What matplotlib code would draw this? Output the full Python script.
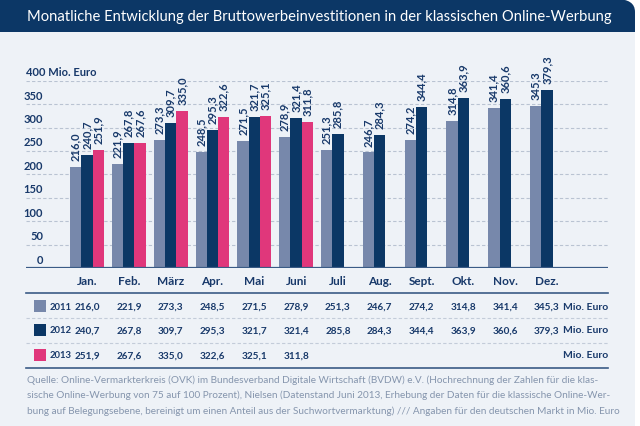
import numpy as np
import matplotlib.pyplot as plt
import matplotlib.transforms as mtransforms
from matplotlib.patches import Rectangle, FancyBboxPatch
from matplotlib.lines import Line2D

months = ['Jan.', 'Feb.', 'März', 'Apr.', 'Mai', 'Juni', 'Juli', 'Aug.', 'Sept.', 'Okt.', 'Nov.', 'Dez.']
v2011 = [216.0, 221.9, 273.3, 248.5, 271.5, 278.9, 251.3, 246.7, 274.2, 314.8, 341.4, 345.3]
v2012 = [240.7, 267.8, 309.7, 295.3, 321.7, 321.4, 285.8, 284.3, 344.4, 363.9, 360.6, 379.3]
v2013 = [251.9, 267.6, 335.0, 322.6, 325.1, 311.8]
years = ['2011', '2012', '2013']
yticks = [0, 50, 100, 150, 200, 250, 300, 350, 400]
unit = 'Mio. Euro'
title = 'Monatliche Entwicklung der Bruttowerbeinvestitionen in der klassischen Online-Werbung'
source = ['Quelle: Online-Vermarkterkreis (OVK) im Bundesverband Digitale Wirtschaft (BVDW) e.V. (Hochrechnung der Zahlen für die klas-',
          'sische Online-Werbung von 75 auf 100 Prozent), Nielsen (Datenstand Juni 2013, Erhebung der Daten für die klassische Online-Wer-',
          'bung auf Belegungsebene, bereinigt um einen Anteil aus der Suchwortvermarktung) /// Angaben für den deutschen Markt in Mio. Euro']

colors = ['#7788ab', '#0b3765', '#e0377b']
navy = '#0c3766'
txtc = '#18396a'
bg = '#eef2f7'

plt.rcParams['font.family'] = ['Lato', 'DejaVu Sans']

W, H = 640, 427
fig = plt.figure(figsize=(6.4, 4.27), dpi=100)
fig.patch.set_facecolor('white')

def fy(y):
    return 1 - y / H

# panel + title bar
fig.patches.append(FancyBboxPatch((580 / W, fy(60)), 55 / W, 60 / H, boxstyle='round,pad=0,rounding_size=0.03',
                                  transform=fig.transFigure, fc=navy, ec='none', zorder=-3))
fig.patches.append(Rectangle((0, fy(33)), 600 / W, 33 / H, transform=fig.transFigure, fc=navy, ec='none', zorder=-2))
fig.patches.append(Rectangle((0, 0), 635 / W, fy(33), transform=fig.transFigure, fc=bg, ec='none', zorder=-1))
fig.text(27 / W, fy(17), title, color='white', fontsize=10.6, va='center', ha='left', zorder=5)

# chart
ax = fig.add_axes([26 / W, fy(269), 582 / W, (269 - 81.7) / H])
ax.set_xlim(-1.46, 12.46)
ax.set_ylim(0, 400)
ax.axis('off')
ax.patch.set_visible(False)

for t in yticks[1:]:
    ax.axhline(t, color='#b9c3d2', lw=0.8, ls=(0, (3, 2)), zorder=0)
ax.axhline(0, color='#3a5b86', lw=1.6, zorder=3)

ty = mtransforms.blended_transform_factory(fig.transFigure, ax.transData)
for t in yticks[:-1]:
    ax.annotate(str(t), (43 / W, t), xycoords=ty, xytext=(0, 2.5), textcoords='offset points',
                ha='right', va='bottom', fontsize=8, fontweight='bold', color=txtc)
ax.annotate(f'{yticks[-1]} {unit}', (26 / W, yticks[-1]), xycoords=ty, xytext=(0, 2.5), textcoords='offset points',
            ha='left', va='bottom', fontsize=8, fontweight='bold', color=txtc)

w = 0.27
x = np.arange(len(months))
for k, vals in enumerate([v2011, v2012, v2013]):
    xs = x[:len(vals)] + (k - 1) * w
    ax.bar(xs, vals, width=w, color=colors[k], zorder=2)
    for xi, v in zip(xs, vals):
        ax.annotate(f'{v:.1f}'.replace('.', ','), (xi, v), xytext=(0, 5), textcoords='offset points',
                    rotation=90, ha='center', va='bottom', fontsize=8, fontweight='bold',
                    color=txtc, annotation_clip=False)

tx = mtransforms.blended_transform_factory(ax.transData, fig.transFigure)
for i, m in enumerate(months):
    ax.text(i, fy(282), m, transform=tx, ha='center', va='center', fontsize=8.5, fontweight='bold', color=txtc)

# table
rows_y = [307, 331, 356]
fig.lines.append(Line2D([26 / W, 608 / W], [fy(294), fy(294)], transform=fig.transFigure, color='#3a5b86', lw=1.2))
fig.lines.append(Line2D([26 / W, 608 / W], [fy(369), fy(369)], transform=fig.transFigure, color='#3a5b86', lw=1.2))
for yy in [319, 344]:
    fig.lines.append(Line2D([26 / W, 608 / W], [fy(yy), fy(yy)], transform=fig.transFigure,
                            color='#c3ccd9', lw=0.8, ls=(0, (3, 2))))
for k, vals in enumerate([v2011, v2012, v2013]):
    yy = rows_y[k]
    fig.patches.append(Rectangle((34 / W, fy(yy + 6)), 12 / W, 12 / H, transform=fig.transFigure,
                                 fc=colors[k], ec='none', zorder=5))
    fig.text(50 / W, fy(yy), years[k], ha='left', va='center', fontsize=6.8, fontweight='bold', color=txtc)
    for i, v in enumerate(vals):
        ax.text(i, fy(yy), f'{v:.1f}'.replace('.', ','), transform=tx, ha='center', va='center',
                fontsize=7.2, fontweight='bold', color=txtc)
    fig.text(608 / W, fy(yy), unit, ha='right', va='center', fontsize=7.5, fontweight='bold', color=txtc)

for j, line in enumerate(source):
    fig.text(27 / W, fy(380 + j * 15.5), line, ha='left', va='center', fontsize=7.2, color='#8595ad')

fig.savefig('out.png', dpi=100, facecolor='white')
